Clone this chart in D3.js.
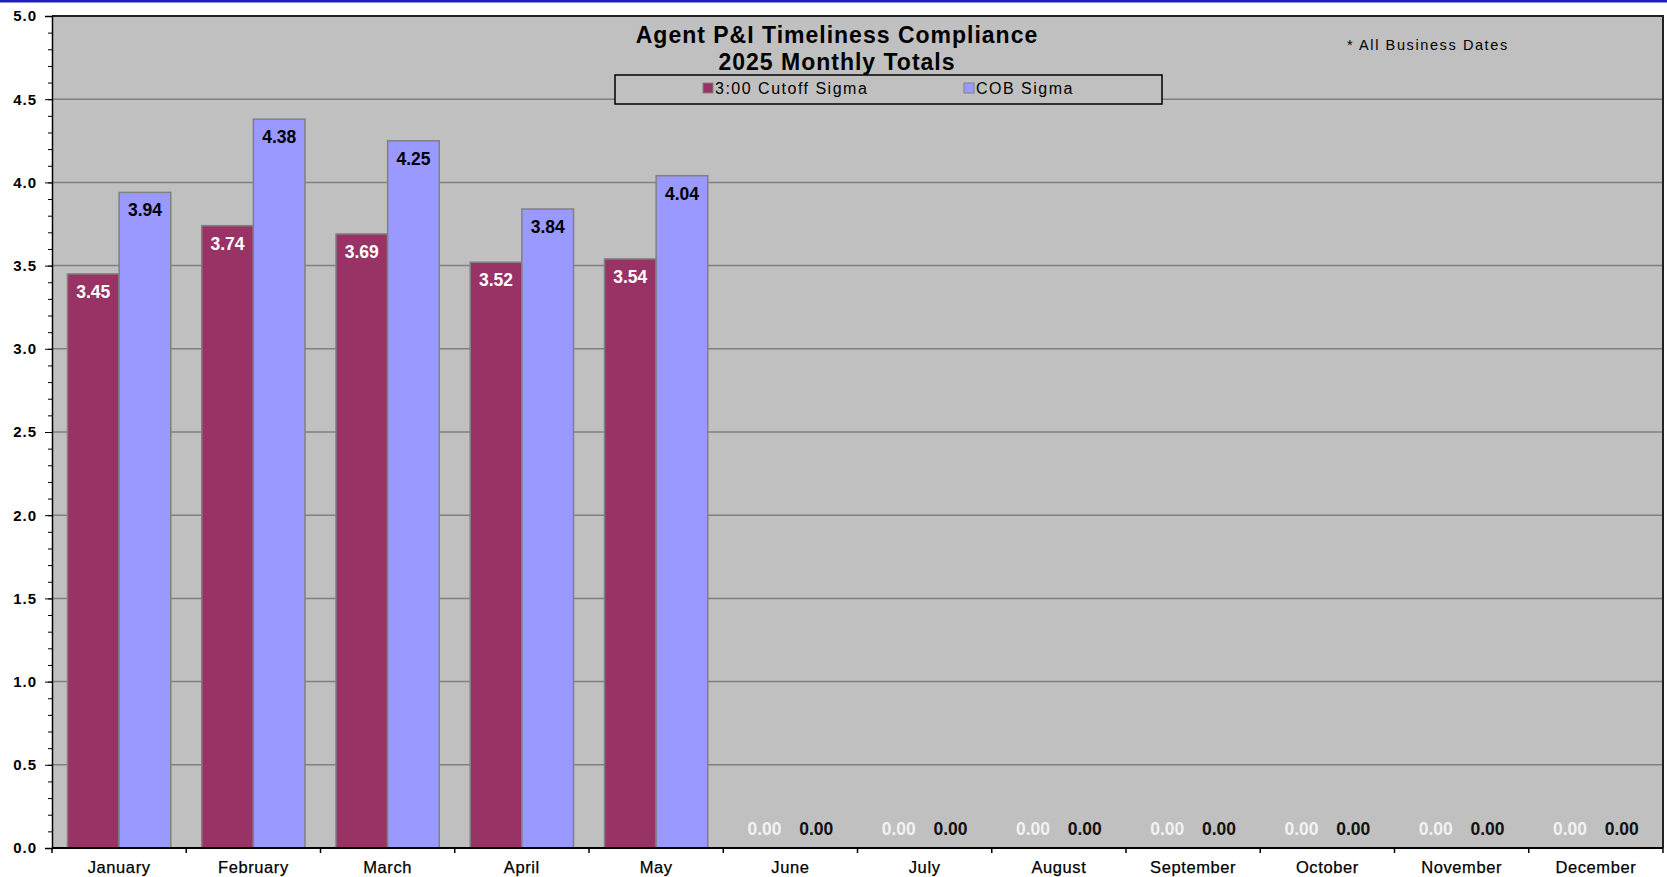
<!DOCTYPE html>
<html>
<head>
<meta charset="utf-8">
<script src="https://cdn.jsdelivr.net/npm/d3@7"></script>
<style>
  body { margin: 0; background: #fff; }
  svg { display: block; font-family: "Liberation Sans", Arial, sans-serif; }
</style>
</head>
<body>
<svg width="1667" height="877"></svg>
<script>
var months = ["January", "February", "March", "April", "May", "June",
              "July", "August", "September", "October", "November", "December"];
var cutoff = [3.45, 3.74, 3.69, 3.52, 3.54, 0, 0, 0, 0, 0, 0, 0];
var cob    = [3.94, 4.38, 4.25, 3.84, 4.04, 0, 0, 0, 0, 0, 0, 0];
var seriesNames = ["3:00 Cutoff Sigma", "COB Sigma"];
var seriesColors = ["#993366", "#9999ff"];
var labelColors = ["#ffffff", "#000000"];
var majorTicks = [0, 0.5, 1, 1.5, 2, 2.5, 3, 3.5, 4, 4.5, 5];

var svg = d3.select("svg"),
    margin = {top: 16, right: 4, bottom: 29, left: 52},
    width = +svg.attr("width") - margin.left - margin.right,
    height = +svg.attr("height") - margin.top - margin.bottom;

// thin blue rule across the top of the page
svg.append("rect")
    .attr("x", 0).attr("y", 0)
    .attr("width", 1667).attr("height", 2.5)
    .attr("fill", "#2020b8");

var g = svg.append("g")
    .attr("transform", "translate(" + margin.left + "," + margin.top + ")");

var x = d3.scaleBand().domain(months).range([0, width]).padding(0);
var xs = d3.scaleBand().domain([0, 1]).range([0, x.bandwidth()])
    .paddingInner(0).paddingOuter(0.3);
var y = d3.scaleLinear().domain([0, 5]).range([height, 0]);

g.append("rect")
    .attr("width", width).attr("height", height)
    .attr("fill", "#c0c0c0");

// gridlines
g.selectAll(".grid")
  .data(majorTicks.filter(function(d){ return d > 0 && d < 5; }))
  .enter().append("line")
    .attr("class", "grid")
    .attr("x1", 0).attr("x2", width)
    .attr("y1", function(d){ return y(d); })
    .attr("y2", function(d){ return y(d); })
    .attr("stroke", "#808080")
    .attr("stroke-width", 1.5);

// top and right border
g.append("path")
    .attr("d", "M0," + y(5) + "H" + width + "V" + height)
    .attr("fill", "none")
    .attr("stroke", "#222")
    .attr("stroke-width", 2);

var data = [];
months.forEach(function(m, i){
  data.push({month: m, s: 0, v: cutoff[i]});
  data.push({month: m, s: 1, v: cob[i]});
});

g.selectAll(".bar")
  .data(data.filter(function(d){ return d.v > 0; }))
  .enter().append("rect")
    .attr("class", "bar")
    .attr("x", function(d){ return x(d.month) + xs(d.s); })
    .attr("y", function(d){ return y(d.v); })
    .attr("width", xs.bandwidth())
    .attr("height", function(d){ return height - y(d.v); })
    .attr("fill", function(d){ return seriesColors[d.s]; })
    .attr("stroke", "#808080")
    .attr("stroke-width", 1.5);

g.selectAll(".val")
  .data(data)
  .enter().append("text")
    .attr("class", "val")
    .attr("x", function(d){ return x(d.month) + xs(d.s) + xs.bandwidth() / 2; })
    .attr("y", function(d){ return Math.min(y(d.v) + 24, height - 13); })
    .attr("text-anchor", "middle")
    .attr("font-size", "17.5px")
    .attr("font-weight", "bold")
    .attr("fill", function(d){ return d.v > 0 ? labelColors[d.s] : (d.s ? "#111" : "#f2f2f2"); })
    .text(function(d){ return d.v.toFixed(2); });

// y axis
var yAxis = g.append("g")
    .call(d3.axisLeft(y).tickValues(majorTicks).tickSize(7).tickFormat(d3.format(".1f")));
g.append("g")
    .call(d3.axisLeft(y).tickValues(d3.range(0, 51).map(function(i){ return i / 10; }))
      .tickSize(4).tickFormat(""))
    .select(".domain").remove();
yAxis.select(".domain").attr("stroke", "#000").attr("stroke-width", 1.5);
yAxis.selectAll(".tick line").attr("stroke", "#000");
yAxis.selectAll(".tick text")
    .attr("x", -15)
    .attr("font-size", "15px")
    .attr("font-weight", "bold")
    .attr("letter-spacing", "1px")
    .attr("fill", "#000")
    .attr("font-family", "Liberation Sans, Arial, sans-serif");

// x axis
var xAxis = g.append("g")
    .attr("transform", "translate(0," + height + ")");
xAxis.append("line")
    .attr("x1", 0).attr("x2", width)
    .attr("stroke", "#000").attr("stroke-width", 2);
xAxis.selectAll(".xtick")
  .data(months.concat(["end"]))
  .enter().append("line")
    .attr("class", "xtick")
    .attr("x1", function(d, i){ return i * x.step(); })
    .attr("x2", function(d, i){ return i * x.step(); })
    .attr("y1", 0).attr("y2", 5)
    .attr("stroke", "#000").attr("stroke-width", 1.5);
xAxis.selectAll(".xlab")
  .data(months)
  .enter().append("text")
    .attr("class", "xlab")
    .attr("x", function(d){ return x(d) + x.bandwidth() / 2; })
    .attr("y", 25)
    .attr("text-anchor", "middle")
    .attr("font-size", "16.5px")
    .attr("letter-spacing", "0.6px")
    .attr("stroke", "#000")
    .attr("stroke-width", 0.25)
    .attr("fill", "#000")
    .text(function(d){ return d; });

// title
var title = svg.append("text")
    .attr("text-anchor", "middle")
    .attr("font-size", "23px")
    .attr("font-weight", "bold")
    .attr("letter-spacing", "1px")
    .attr("fill", "#000");
title.append("tspan").attr("x", 837).attr("y", 43).text("Agent P&I Timeliness Compliance");
title.append("tspan").attr("x", 837).attr("y", 70).text("2025 Monthly Totals");

svg.append("text")
    .attr("x", 1347).attr("y", 50)
    .attr("font-size", "14.5px")
    .attr("letter-spacing", "1.6px")
    .attr("fill", "#000")
    .text("* All Business Dates");

// legend
var legend = svg.append("g");
legend.append("rect")
    .attr("x", 615).attr("y", 75)
    .attr("width", 547).attr("height", 29)
    .attr("fill", "#c0c0c0")
    .attr("stroke", "#000")
    .attr("stroke-width", 1.5);
var legendX = [703, 964];
var item = legend.selectAll(".item")
  .data(seriesNames)
  .enter().append("g")
    .attr("class", "item")
    .attr("transform", function(d, i){ return "translate(" + legendX[i] + ",83)"; });
item.append("rect")
    .attr("width", 10).attr("height", 10)
    .attr("fill", function(d, i){ return seriesColors[i]; })
    .attr("stroke", "#808080")
    .attr("stroke-width", 1);
item.append("text")
    .attr("x", 12).attr("y", 11)
    .attr("font-size", "16px")
    .attr("letter-spacing", "1.5px")
    .attr("fill", "#000")
    .text(function(d){ return d; });
</script>
</body>
</html>
